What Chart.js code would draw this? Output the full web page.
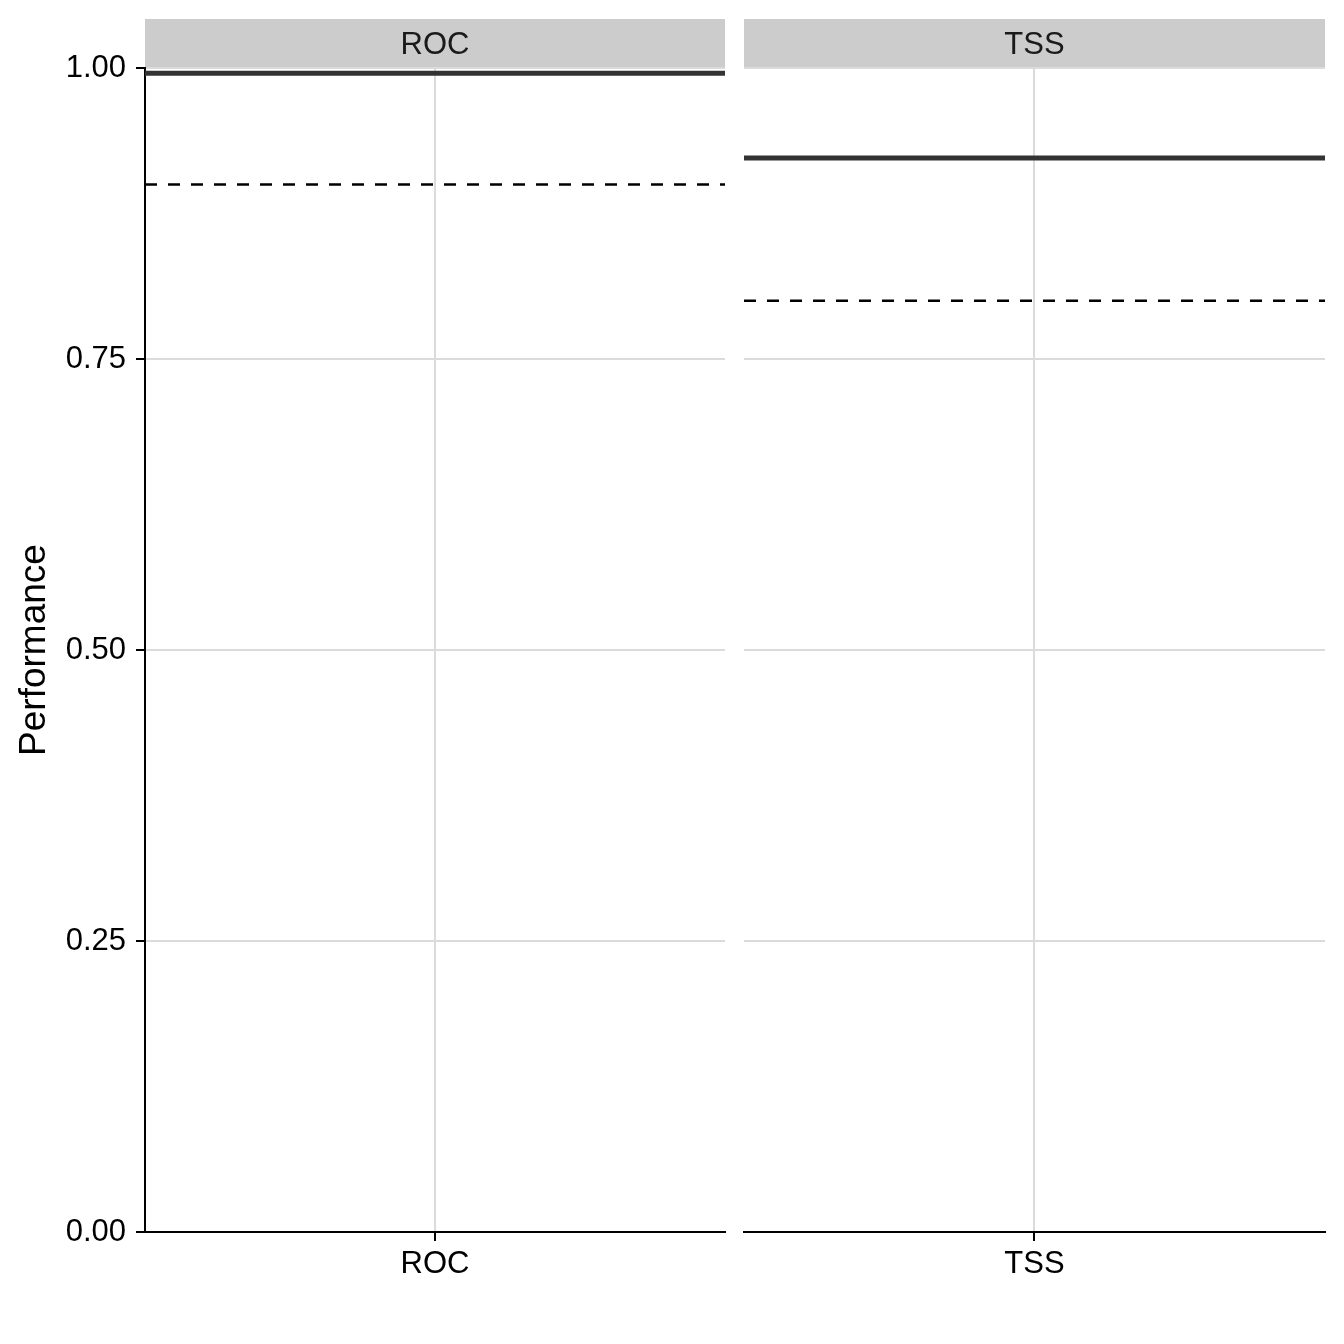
<!DOCTYPE html>
<html>
<head>
<meta charset="utf-8">
<script src="https://cdn.jsdelivr.net/npm/chart.js@4/dist/chart.umd.min.js"></script>
<style>
  body { margin: 0; background: #ffffff; }
  #wrap { position: relative; width: 1344px; height: 1344px; background: #ffffff; }
  canvas { position: absolute; top: 0; }
</style>
</head>
<body>
<div id="wrap">
  <canvas id="panelROC" width="735" height="1344" style="left:0px"></canvas>
  <canvas id="panelTSS" width="609" height="1344" style="left:735px"></canvas>
</div>
<script>
// facet categories and values
const metrics = ["ROC", "TSS"];
const meanScores = [0.9955, 0.9226];   // solid lines
const thresholds = [0.9, 0.8];         // dashed lines
const yTicks = [0, 0.25, 0.5, 0.75, 1];

// discrete x scale with one level, ggplot style expansion
const xMin = 0.4;
const xMax = 1.6;

const FONT = "'Liberation Sans', Arial, sans-serif";
const GRID = "#dbdbdb";

// grey strip with the facet name above each panel
const stripPlugin = {
  id: "strip",
  afterDraw: function (chart, args, opts) {
    const ctx = chart.ctx;
    const a = chart.chartArea;
    ctx.save();
    ctx.fillStyle = "#cccccc";
    ctx.fillRect(a.left, 19, a.right - a.left, a.top - 20);
    ctx.fillStyle = "#1a1a1a";
    ctx.font = "31px " + FONT;
    ctx.textAlign = "center";
    ctx.textBaseline = "middle";
    ctx.fillText(opts.text, (a.left + a.right) / 2, 45);
    ctx.restore();
  }
};

function makePanel(canvasId, i, showY) {
  const ctx = document.getElementById(canvasId).getContext("2d");
  return new Chart(ctx, {
    type: "line",
    data: {
      datasets: [
        {
          data: [{ x: xMin, y: thresholds[i] }, { x: xMax, y: thresholds[i] }],
          borderColor: "#000000",
          borderWidth: 2.5,
          borderDash: [12, 11],
          pointRadius: 0,
        },
        {
          data: [{ x: xMin, y: meanScores[i] }, { x: xMax, y: meanScores[i] }],
          borderColor: "#333333",
          borderWidth: 5,
          pointRadius: 0,
        },
      ],
    },
    options: {
      responsive: false,
      animation: false,
      devicePixelRatio: 1,
      layout: {
        padding: showY
          ? { top: 68, right: 10, left: 0, bottom: 0 }
          : { top: 68, right: 19, left: 9, bottom: 0 },
      },
      plugins: {
        legend: { display: false },
        tooltip: { enabled: false },
        strip: { text: metrics[i] },
      },
      scales: {
        x: {
          type: "linear",
          min: xMin,
          max: xMax,
          afterBuildTicks: (s) => { s.ticks = [{ value: 1 }]; },
          afterFit: (s) => { s.height = 112; },
          ticks: {
            callback: () => metrics[i],
            color: "#000000",
            font: { family: FONT, size: 31 },
            padding: 5,
            maxRotation: 0,
          },
          grid: { color: GRID, lineWidth: 2, tickColor: "#000000", tickLength: 9 },
          border: { color: "#000000", width: 2 },
        },
        y: {
          min: 0,
          max: 1,
          afterBuildTicks: (s) => { s.ticks = yTicks.map((v) => ({ value: v })); },
          afterFit: (s) => { s.width = showY ? 145 : 0; },
          ticks: {
            display: showY,
            callback: (v) => Number(v).toFixed(2),
            color: "#000000",
            font: { family: FONT, size: 31 },
            padding: 10,
          },
          grid: {
            color: GRID,
            lineWidth: 2,
            tickColor: "#000000",
            tickLength: 9,
            drawTicks: showY,
          },
          border: { display: showY, color: "#000000", width: 2 },
          title: {
            display: showY,
            text: "Performance",
            color: "#000000",
            font: { family: FONT, size: 37 },
            padding: { top: 13, bottom: 0 },
          },
        },
      },
    },
    plugins: [stripPlugin],
  });
}

makePanel("panelROC", 0, true);
makePanel("panelTSS", 1, false);
</script>
</body>
</html>
